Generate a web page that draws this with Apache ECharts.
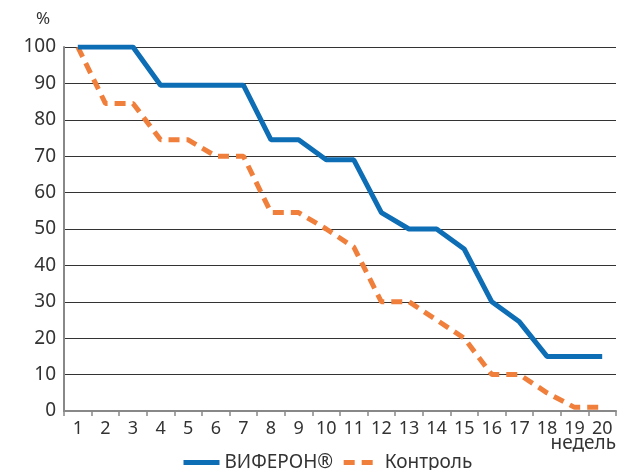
<!DOCTYPE html>
<html><head><meta charset="utf-8">
<script src="https://cdn.jsdelivr.net/npm/echarts@6/dist/echarts.min.js"></script>
<style>html,body{margin:0;padding:0;background:#fff}#c{width:618px;height:470px}</style>
</head><body><div id="c"></div>
<script>
const weeks = ['1','2','3','4','5','6','7','8','9','10','11','12','13','14','15','16','17','18','19','20'];
const viferon = [100,100,100,89.5,89.5,89.5,89.5,74.5,74.5,69,69,54.5,50,50,44.5,30,24.5,15,15,15];
const control = [100,84.5,84.5,74.5,74.5,70,70,54.5,54.5,50,45,30,30,25,20,10,10,5,1,1];
const seriesNames = ['ВИФЕРОН®','Контроль'];
const font = '"Noto Sans", sans-serif';
const chart = echarts.init(document.getElementById('c'));
chart.setOption({
  animation:false,
  grid:{left:64,right:2,top:47,bottom:59},
  legend:{
    bottom:-7, left:176, itemGap:8, itemWidth:36, itemHeight:14,
    textStyle:{fontFamily:font,fontSize:19,color:'#333'},
    itemStyle:{opacity:0},
    lineStyle:{width:5},
    data:seriesNames
  },
  graphic:[
    {type:'text',left:36,top:11,style:{text:'%',font:'17px '+font,fill:'#333'}},
    {type:'text',right:2,top:434,style:{text:'недель',font:'19px '+font,fill:'#333'}}
  ],
  xAxis:{
    type:'category', data:weeks, boundaryGap:true,
    axisLine:{lineStyle:{color:'#888',width:2}},
    axisTick:{show:true,length:5,lineStyle:{color:'#888',width:1.5}},
    axisLabel:{fontFamily:font,fontSize:18,color:'#333',margin:9,interval:0}
  },
  yAxis:{
    type:'value', min:0, max:100, interval:10,
    axisLine:{show:true,lineStyle:{color:'#888',width:2}},
    axisTick:{show:false},
    axisLabel:{fontFamily:font,fontSize:19,color:'#333',margin:8},
    splitLine:{lineStyle:{color:'#333',width:1}}
  },
  series:[
    {name:seriesNames[0],type:'line',data:viferon,symbol:'none',
     lineStyle:{color:'#0d6db5',width:5},itemStyle:{color:'#0d6db5'},z:3},
    {name:seriesNames[1],type:'line',data:control,symbol:'none',
     lineStyle:{color:'#f07f3c',width:5,type:[11,7]},itemStyle:{color:'#f07f3c'},z:2}
  ]
});
</script></body></html>
